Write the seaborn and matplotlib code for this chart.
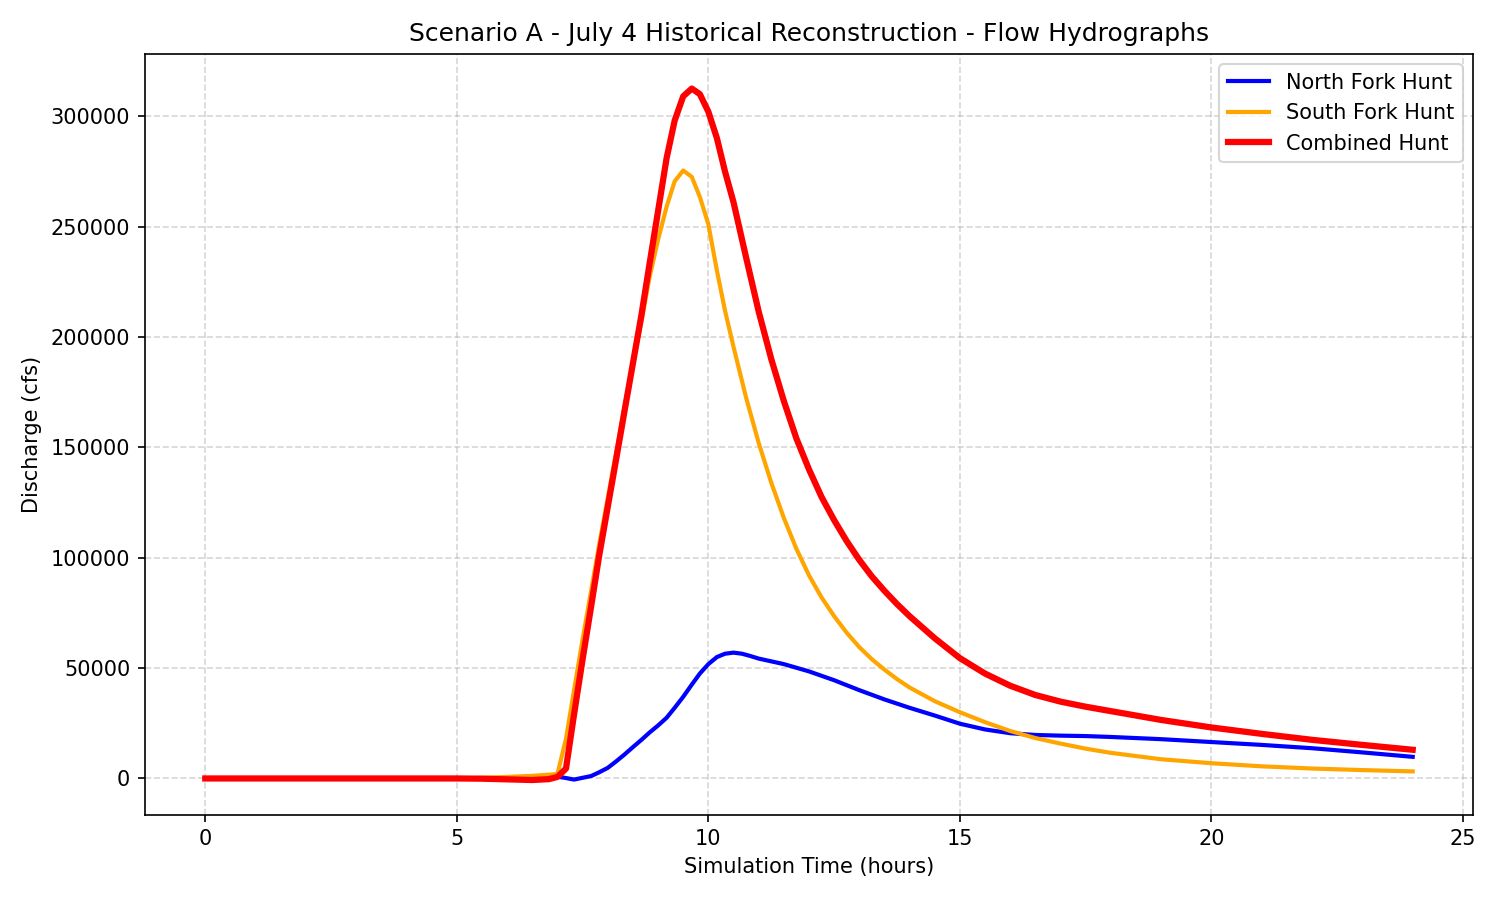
import numpy as np
import pandas as pd
import matplotlib
matplotlib.use("Agg")
import matplotlib.pyplot as plt
import seaborn as sns

north_time = [0, 5, 6.5, 7.0, 7.17, 7.33, 7.5, 7.67, 7.83, 8.0, 8.17, 8.33, 8.5, 8.67, 8.83,
              9.0, 9.17, 9.33, 9.5, 9.67, 9.83, 10.0, 10.17, 10.33, 10.5, 10.67, 10.83, 11.0,
              11.5, 12.0, 12.5, 13.0, 13.5, 14.0, 14.5, 15.0, 15.5, 16.0, 16.5, 17.0, 17.5,
              18.0, 19.0, 20.0, 21.0, 22.0, 23.0, 24.0]
north_flow = [0, 0, 0, 800, 200, -500, 300, 1100, 2800, 4800, 7800, 10800, 14200, 17500, 20800,
              24000, 27500, 32000, 37000, 42500, 47500, 51800, 55000, 56500, 57000, 56500, 55500, 54300,
              51800, 48500, 44500, 40000, 35800, 32000, 28500, 24800, 22200, 20500, 19700, 19400, 19200,
              18800, 17800, 16500, 15200, 13700, 11800, 9800]

south_time = [0, 5, 5.5, 6.0, 6.5, 7.0, 7.17, 7.33, 7.5, 7.67, 7.83, 8.0, 8.17, 8.33, 8.5, 8.67,
              8.83, 9.0, 9.17, 9.33, 9.5, 9.67, 9.83, 10.0, 10.17, 10.33, 10.5, 10.75, 11.0, 11.25,
              11.5, 11.75, 12.0, 12.25, 12.5, 12.75, 13.0, 13.25, 13.5, 13.75, 14.0, 14.5, 15.0,
              15.5, 16.0, 16.5, 17.0, 17.5, 18.0, 19.0, 20.0, 21.0, 22.0, 23.0, 24.0]
south_flow = [0, 0, 300, 700, 1200, 2000, 18000, 40000, 63000, 85000, 106000, 127000, 148000, 168000,
              188000, 207000, 227000, 244000, 259000, 270500, 275400, 272500, 263500, 251000, 230000,
              212000, 195500, 172500, 152000, 134000, 118000, 104000, 92000, 82000, 73500, 66000,
              59500, 54000, 49300, 45000, 41200, 35000, 30000, 25500, 21500, 18300, 15800, 13500,
              11600, 8700, 6900, 5500, 4500, 3800, 3200]

combined_time = [0, 5, 5.5, 6.0, 6.5, 6.83, 7.0, 7.17, 7.33, 7.5, 7.67, 7.83, 8.0, 8.17, 8.33, 8.5,
                 8.67, 8.83, 9.0, 9.17, 9.33, 9.5, 9.67, 9.83, 10.0, 10.17, 10.33, 10.5, 10.75, 11.0,
                 11.25, 11.5, 11.75, 12.0, 12.25, 12.5, 12.75, 13.0, 13.25, 13.5, 13.75, 14.0, 14.5,
                 15.0, 15.5, 16.0, 16.5, 17.0, 17.5, 18.0, 19.0, 20.0, 21.0, 22.0, 23.0, 24.0]
combined_flow = [0, 0, -100, -400, -700, -300, 700, 4500, 29000, 54000, 78000, 101000, 123000, 145000,
                 166000, 188000, 210000, 233000, 257000, 281000, 298000, 309000, 312500, 310000, 302000,
                 290000, 275000, 261000, 236000, 211500, 190000, 171000, 154000, 140000, 127500, 117000,
                 107500, 99000, 91500, 85000, 79000, 73500, 63500, 54500, 47500, 42000, 37800, 34800,
                 32500, 30500, 26500, 23100, 20200, 17500, 15200, 13000]

north = pd.DataFrame({"time": north_time, "flow": north_flow})
south = pd.DataFrame({"time": south_time, "flow": south_flow})
combined = pd.DataFrame({"time": combined_time, "flow": combined_flow})

fig, ax = plt.subplots(figsize=(10, 6), dpi=150)

sns.lineplot(data=north, x="time", y="flow", ax=ax, color="blue", linewidth=2, label="North Fork Hunt")
sns.lineplot(data=south, x="time", y="flow", ax=ax, color="orange", linewidth=2, label="South Fork Hunt")
sns.lineplot(data=combined, x="time", y="flow", ax=ax, color="red", linewidth=3, label="Combined Hunt")

ax.set_title("Scenario A - July 4 Historical Reconstruction - Flow Hydrographs")
ax.set_xlabel("Simulation Time (hours)")
ax.set_ylabel("Discharge (cfs)")
ax.grid(True, linestyle="--", alpha=0.5)
ax.legend(loc="upper right")

plt.tight_layout()
plt.savefig("out.png", dpi=150)
plt.close()
